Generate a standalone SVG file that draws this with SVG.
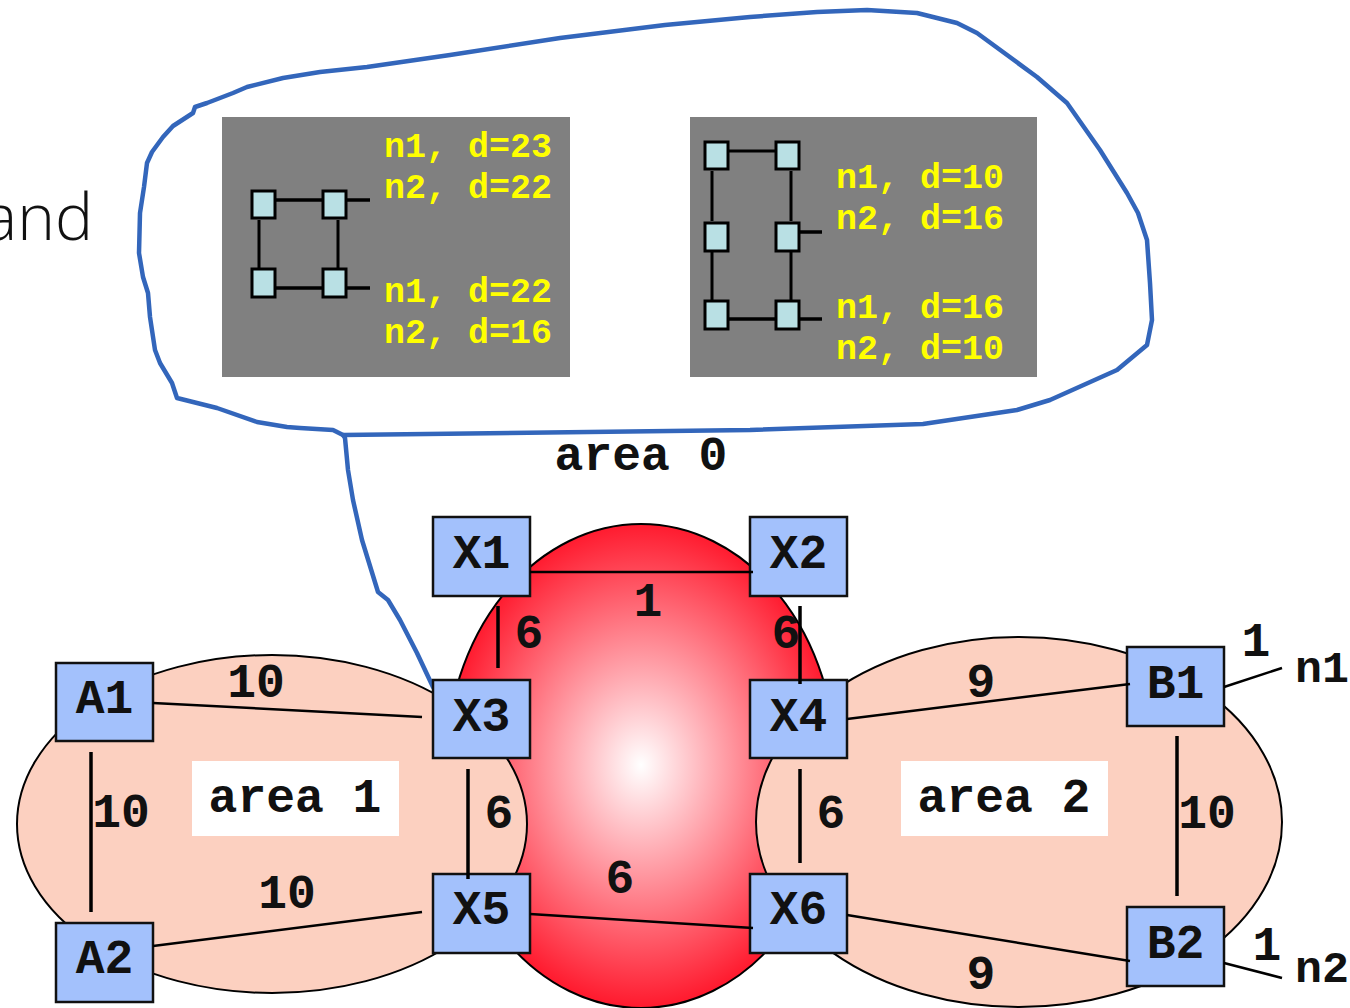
<svg xmlns="http://www.w3.org/2000/svg" width="1350" height="1008" viewBox="0 0 1350 1008">
<style>
.node{fill:#a3c1fc;stroke:#111;stroke-width:2.5}
.nl{font-family:"Liberation Mono","Courier New",monospace;font-weight:bold;font-size:48px;fill:#111;text-anchor:middle}
.el{font-family:"Liberation Mono","Courier New",monospace;font-weight:bold;font-size:48px;fill:#111;text-anchor:middle}
.yl{font-family:"Liberation Mono","Courier New",monospace;font-weight:bold;font-size:35px;fill:#ffff00}
.cn{stroke:#000;stroke-width:2.5;fill:none}
.cv{stroke:#000;stroke-width:3.5;fill:none}
.sq{fill:#b9e0e4;stroke:#000;stroke-width:3}
.pl{stroke:#000;stroke-width:3.5;fill:none}
.area{fill:#fcd0c0;stroke:#000;stroke-width:2}
.lbox{fill:#fff}
.blue{fill:none;stroke:#3366bb;stroke-width:4.5;stroke-linejoin:round;stroke-linecap:round}
</style>
<defs>
<radialGradient id="redg" cx="641" cy="765" r="242" gradientUnits="userSpaceOnUse" gradientTransform="translate(641 765) scale(0.81 1) translate(-641 -765)">
<stop offset="0" stop-color="#ffffff"/>
<stop offset="1" stop-color="#ff1a2e"/>
</radialGradient>
</defs>
<rect x="0" y="0" width="1350" height="1008" fill="#fff"/>
<text x="93" y="240" style="font-family:'Open Sans','Noto Sans',sans-serif;font-weight:300;font-size:64px;fill:#111;text-anchor:end">and</text>

<g id="callout">
<path class="blue" d="M750,17 L817,12 L867,10 L917,13 L957,23 L977,33 L1037,77 L1067,103 L1100,150 L1127,193 L1138,213 L1147,240 L1150,283 L1152,320 L1147,345 L1117,370 L1050,400 L1017,410 L923,424 L750,430 L343,435 L333,430 L300,428 L287,427 L257,422 L217,408 L177,398 L172,383 L160,363 L155,350 L150,317 L148,293 L143,277 L139,253 L140,213 L144,187 L147,163 L152,152 L163,137 L173,126 L193,113 L195,107 L207,103 L233,93 L247,87 L283,78 L320,72 L367,67 L450,55 L560,38 L665,25 Z"/>
<path class="blue" d="M343,435 L345,438 L348,470 L353,500 L362,540 L378,592 L388,600 L400,620 L417,653 L433,687"/>
</g>

<g id="panel1">
<rect x="222" y="117" width="348" height="260" fill="#808080"/>
<line class="pl" x1="275" y1="200" x2="323" y2="200"/>
<line class="pl" x1="346" y1="200" x2="370" y2="200"/>
<line class="pl" x1="275" y1="288" x2="323" y2="288"/>
<line class="pl" x1="346" y1="288" x2="370" y2="288"/>
<line class="pl" style="stroke-width:3" x1="259" y1="220" x2="259" y2="268"/>
<line class="pl" style="stroke-width:3" x1="338" y1="220" x2="338" y2="268"/>
<rect class="sq" x="252" y="191" width="23" height="27"/>
<rect class="sq" x="323" y="191" width="23" height="27"/>
<rect class="sq" x="252" y="269" width="23" height="28"/>
<rect class="sq" x="323" y="269" width="23" height="28"/>
<text class="yl" x="384" y="157">n1, d=23</text>
<text class="yl" x="384" y="198">n2, d=22</text>
<text class="yl" x="384" y="302">n1, d=22</text>
<text class="yl" x="384" y="343">n2, d=16</text>
</g>

<g id="panel2">
<rect x="690" y="117" width="347" height="260" fill="#808080"/>
<line class="pl" style="stroke-width:3" x1="728" y1="151" x2="776" y2="151"/>
<line class="pl" x1="728" y1="319" x2="776" y2="319"/>
<line class="pl" x1="799" y1="232" x2="822" y2="232"/>
<line class="pl" x1="799" y1="319" x2="822" y2="319"/>
<line class="pl" style="stroke-width:3" x1="712" y1="171" x2="712" y2="221"/>
<line class="pl" style="stroke-width:3" x1="712" y1="252" x2="712" y2="300"/>
<line class="pl" style="stroke-width:3" x1="791" y1="171" x2="791" y2="221"/>
<line class="pl" style="stroke-width:3" x1="791" y1="252" x2="791" y2="300"/>
<rect class="sq" x="705" y="142" width="23" height="27"/>
<rect class="sq" x="776" y="142" width="23" height="27"/>
<rect class="sq" x="705" y="223" width="23" height="28"/>
<rect class="sq" x="776" y="223" width="23" height="28"/>
<rect class="sq" x="705" y="301" width="23" height="28"/>
<rect class="sq" x="776" y="301" width="23" height="28"/>
<text class="yl" x="836" y="188">n1, d=10</text>
<text class="yl" x="836" y="229">n2, d=16</text>
<text class="yl" x="836" y="318">n1, d=16</text>
<text class="yl" x="836" y="359">n2, d=10</text>
</g>

<g id="area0">
<ellipse cx="641" cy="766" rx="195" ry="242" fill="url(#redg)" stroke="#000" stroke-width="2"/>
<text class="el" x="641" y="470">area 0</text>
</g>
<g id="area1">
<ellipse class="area" cx="272" cy="824" rx="255" ry="169"/>
<rect class="lbox" x="192" y="761" width="207" height="75"/>
<text class="el" x="295" y="812">area 1</text>
</g>
<g id="area2">
<ellipse class="area" cx="1019" cy="822" rx="263" ry="185"/>
<rect class="lbox" x="901" y="761" width="207" height="75"/>
<text class="el" x="1004" y="812">area 2</text>
</g>

<g id="X1"><rect class="node" x="433" y="517" width="97" height="79"/><text class="nl" x="481.5" y="568">X1</text></g>
<g id="X2"><rect class="node" x="750" y="517" width="97" height="79"/><text class="nl" x="798.5" y="568">X2</text></g>
<g id="X3"><rect class="node" x="433" y="680" width="97" height="78"/><text class="nl" x="481.5" y="731">X3</text></g>
<g id="X4"><rect class="node" x="750" y="680" width="97" height="78"/><text class="nl" x="798.5" y="731">X4</text></g>
<g id="X5"><rect class="node" x="433" y="874" width="97" height="79"/><text class="nl" x="481.5" y="924">X5</text></g>
<g id="X6"><rect class="node" x="750" y="874" width="97" height="79"/><text class="nl" x="798.5" y="924">X6</text></g>
<g id="A1"><rect class="node" x="56" y="663" width="97" height="78"/><text class="nl" x="104.5" y="713">A1</text></g>
<g id="A2"><rect class="node" x="56" y="923" width="97" height="79"/><text class="nl" x="104.5" y="973">A2</text></g>
<g id="B1"><rect class="node" x="1127" y="647" width="97" height="79"/><text class="nl" x="1175.5" y="698">B1</text></g>
<g id="B2"><rect class="node" x="1127" y="907" width="97" height="79"/><text class="nl" x="1175.5" y="958">B2</text></g>

<g id="connectors">
<line class="cn" x1="530" y1="572" x2="753" y2="572"/>
<line class="cv" x1="498" y1="606" x2="498" y2="668"/>
<line class="cv" x1="800" y1="606" x2="800" y2="684"/>
<line class="cv" x1="468" y1="769" x2="468" y2="879"/>
<line class="cv" x1="800" y1="769" x2="800" y2="863"/>
<line class="cn" x1="530" y1="914" x2="753" y2="928"/>
<line class="cn" x1="153" y1="703" x2="422" y2="717"/>
<line class="cv" x1="91" y1="752" x2="91" y2="912"/>
<line class="cn" x1="153" y1="946" x2="422" y2="912"/>
<line class="cn" x1="847" y1="719" x2="1130" y2="684"/>
<line class="cn" x1="847" y1="915" x2="1130" y2="961"/>
<line class="cv" x1="1177" y1="736" x2="1177" y2="896"/>
<line class="cn" x1="1224" y1="687" x2="1282" y2="668"/>
<line class="cn" x1="1224" y1="963" x2="1282" y2="978"/>
</g>

<g id="edge-labels">
<text class="el" x="648" y="616">1</text>
<text class="el" x="529" y="648">6</text>
<text class="el" x="786" y="648">6</text>
<text class="el" x="499" y="828">6</text>
<text class="el" x="831" y="828">6</text>
<text class="el" x="620" y="893">6</text>
<text class="el" x="256" y="697">10</text>
<text class="el" x="121" y="827">10</text>
<text class="el" x="287" y="908">10</text>
<text class="el" x="981" y="697">9</text>
<text class="el" x="981" y="989">9</text>
<text class="el" x="1207" y="828">10</text>
<text class="el" x="1256" y="656">1</text>
<text class="el" x="1267" y="960">1</text>
<text class="el" x="1295" y="682" style="text-anchor:start;font-size:45px">n1</text>
<text class="el" x="1295" y="982" style="text-anchor:start;font-size:45px">n2</text>
</g>
</svg>
